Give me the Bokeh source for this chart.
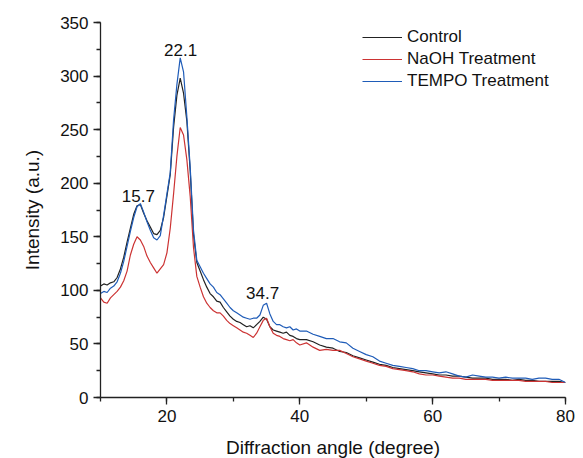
from bokeh.plotting import figure
from bokeh.models import Range1d, SingleIntervalTicker, Legend, LegendItem, Label
from bokeh.embed import file_html
from bokeh.resources import INLINE

angle = [10, 10.5, 11, 11.5, 12, 12.5, 13, 13.5, 14, 14.5, 15, 15.5, 16, 16.5, 17, 17.5,
         18, 18.5, 19, 19.5, 20, 20.5, 21, 21.5, 22, 22.5, 23, 23.5, 24, 24.5, 25, 25.5,
         26, 26.5, 27, 27.5, 28, 28.5, 29, 29.5, 30, 30.5, 31, 31.5, 32, 32.5, 33, 33.5,
         34, 34.5, 35, 35.5, 36, 36.5, 37, 37.5, 38, 38.5, 39, 39.5, 40,
         41, 42, 43, 44, 45, 46, 47, 48, 49, 50, 51, 52, 53, 54, 55, 56, 57, 58, 59, 60,
         61, 62, 63, 64, 65, 66, 67, 68, 69, 70, 71, 72, 73, 74, 75, 76, 77, 78, 79, 80]

control = [104, 106, 105, 107, 108, 112, 120, 131, 145, 158, 171, 179, 180, 172, 165, 159,
           153, 152, 156, 168, 188, 208, 252, 282, 298, 284, 258, 212, 152, 126, 118, 110,
           103, 97, 94, 90, 89, 84, 80, 76, 73, 71, 70, 68, 66, 67, 65, 68,
           71, 75, 73, 66, 63, 62, 61, 60, 61, 58, 57, 55, 54,
           54, 52, 49, 47, 46, 43, 42, 39, 37, 35, 33, 31, 30, 28, 27, 26, 25, 24, 23, 22,
           21, 21, 20, 20, 19, 18, 18, 18, 17, 17, 17, 16, 17, 16, 16, 15, 15, 15, 15, 14]

naoh = [93, 89, 88, 93, 96, 99, 103, 109, 118, 133, 143, 150, 147, 141, 132, 126,
        121, 116, 120, 124, 135, 158, 190, 225, 252, 245, 222, 188, 140, 113, 103, 94,
        88, 84, 81, 79, 79, 76, 72, 69, 67, 65, 63, 61, 60, 58, 56, 60,
        66, 72, 74, 66, 60, 58, 57, 55, 54, 53, 54, 51, 49,
        51, 47, 44, 45, 44, 44, 41, 38, 36, 34, 32, 30, 29, 27, 26, 25, 24, 22, 21, 21,
        20, 19, 18, 18, 17, 17, 17, 17, 16, 16, 16, 16, 16, 15, 15, 15, 15, 14, 14, 14]

tempo = [97, 99, 98, 102, 104, 108, 116, 127, 141, 155, 168, 178, 181, 173, 164, 156,
         149, 147, 151, 170, 190, 210, 259, 292, 317, 304, 262, 215, 156, 128, 122, 116,
         111, 106, 103, 98, 96, 92, 88, 84, 81, 79, 77, 75, 74, 73, 74, 74,
         77, 86, 88, 78, 71, 68, 68, 66, 65, 66, 63, 64, 62,
         62, 59, 57, 55, 55, 52, 51, 46, 43, 40, 38, 34, 32, 30, 29, 28, 27, 25, 25, 24,
         23, 24, 22, 20, 19, 21, 20, 19, 19, 18, 19, 18, 18, 18, 17, 18, 18, 17, 17, 14]

series_names = ["Control", "NaOH Treatment", "TEMPO Treatment"]
series_colors = ["#222222", "#cc3333", "#1f5cb8"]

peak_labels = ["15.7", "22.1", "34.7"]
peak_x = [15.7, 22.05, 34.4]
peak_y = [188, 324, 98]

FONT = "Liberation Sans"

p = figure(frame_width=465, frame_height=375, output_backend="svg", toolbar_location=None,
           x_range=Range1d(10, 80), y_range=Range1d(0, 350),
           min_border_left=100, min_border_right=10, min_border_top=22, min_border_bottom=60)
p.outline_line_color = None
p.grid.visible = False
p.background_fill_color = "white"

renderers = []
for ys, c in zip([control, naoh, tempo], series_colors):
    r = p.line(angle, ys, line_color=c, line_width=1.2)
    renderers.append(r)

for ax in (p.xaxis[0], p.yaxis[0]):
    ax.axis_line_color = "#222222"
    ax.axis_line_width = 1.3
    ax.major_tick_line_color = "#222222"
    ax.minor_tick_line_color = "#222222"
    ax.major_tick_line_width = 1.3
    ax.minor_tick_line_width = 1.3
    ax.major_tick_out = 7
    ax.major_tick_in = 0
    ax.minor_tick_out = 4
    ax.minor_tick_in = 0
    ax.major_label_text_font = FONT
    ax.major_label_text_font_size = "17px"
    ax.major_label_text_color = "#111111"
    ax.axis_label_text_font = FONT
    ax.axis_label_text_font_size = "19px"
    ax.axis_label_text_font_style = "normal"
    ax.axis_label_text_color = "#111111"

p.xaxis.ticker = SingleIntervalTicker(interval=20, num_minor_ticks=2)
p.yaxis.ticker = SingleIntervalTicker(interval=50, num_minor_ticks=2)
p.xaxis.axis_label = "Diffraction angle (degree)"
p.yaxis.axis_label = "Intensity (a.u.)"
p.xaxis.major_label_standoff = 5
p.xaxis.axis_label_standoff = 12
p.yaxis.major_label_standoff = 5
p.yaxis.axis_label_standoff = 14

for t, x, y in zip(peak_labels, peak_x, peak_y):
    p.add_layout(Label(x=x, y=y, text=t, text_align="center", text_baseline="alphabetic",
                       text_font=FONT, text_font_size="17px", text_color="#111111"))

legend = Legend(items=[LegendItem(label=n, renderers=[r]) for n, r in zip(series_names, renderers)],
                location=(262, 306), padding=0, margin=0, spacing=2,
                glyph_width=40, glyph_height=20, label_standoff=5,
                label_text_font=FONT, label_text_font_size="17px", label_text_color="#111111",
                border_line_color=None, background_fill_alpha=0)
p.add_layout(legend, "center")

open("out.html", "w").write(file_html(p, INLINE))
